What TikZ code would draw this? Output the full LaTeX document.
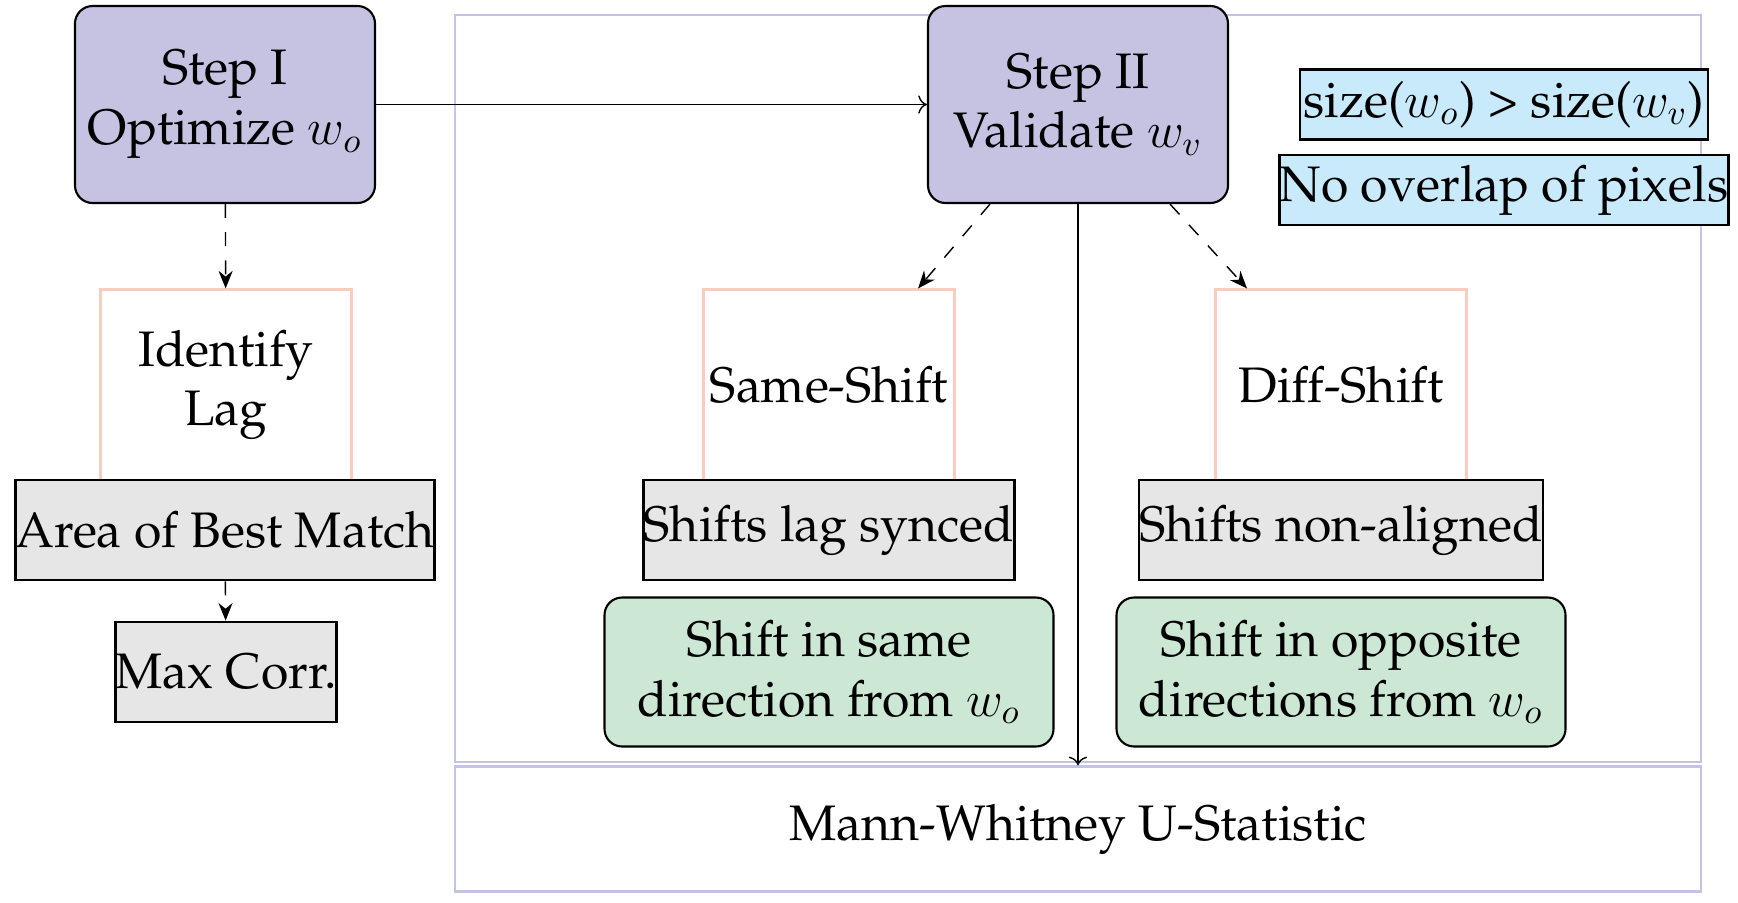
\documentclass[tikz,border=0pt]{standalone}
\usepackage[T1]{fontenc}
\usepackage{palatino}
\usepackage{amsmath}
\usetikzlibrary{arrows.meta}

\definecolor{steppurple}{RGB}{198,195,226}
\definecolor{framepurple}{RGB}{197,195,227}
\definecolor{lagpink}{RGB}{248,205,190}
\definecolor{featgrey}{RGB}{230,230,230}
\definecolor{condblue}{RGB}{200,234,250}
\definecolor{resgreen}{RGB}{204,232,213}

\begin{document}
\begin{tikzpicture}[
    semithick,
    box/.style = {align = center, inner sep = 0pt,
      font = \fontsize{14.2}{17}\selectfont},
    stepbox/.style = {box, draw, fill = steppurple,
      rounded corners = 5pt,
      minimum width = 3.0cm, minimum height = 1.97cm},
    lagbox/.style = {box, draw = lagpink,
      minimum width = 2.51cm, minimum height = 1.91cm},
    featbox/.style = {box, draw, thick, fill = featgrey,
      minimum height = 1cm},
    resbox/.style = {box, draw, fill = resgreen,
      rounded corners = 5pt,
      minimum width = 4.49cm, minimum height = 1.49cm},
    condbox/.style = {box, draw, thick, fill = condblue,
      minimum height = 0.7cm},
    framebox/.style = {box, draw = framepurple, thick,
      minimum width = 12.46cm},
    dashedarrow/.style = {thin, dash pattern = on 4pt off 4pt,
      -{Stealth[length = 5pt, width = 4pt]}}
    ]

    \useasboundingbox (0, 0) rectangle (17.38, 9.02);

    \node at (10.78, 5.135) [framebox, name = V, minimum height = 7.47cm] {};
    \node at (10.78, 0.73) [framebox, name = MW, minimum height = 1.245cm]
    {Mann-Whitney U-Statistic};

    \node at (2.25, 7.975) [stepbox, name = S1] {Step I\\Optimize $w_o$};
    \node at (10.78, 7.975) [stepbox, name = S2] {Step II\\Validate $w_v$};

    \node at (15.04, 7.975) [condbox, name = C1, minimum width = 4.08cm]
    {size($w_o$) > size($w_v$)};
    \node at (15.04, 7.12) [condbox, name = C2, minimum width = 4.49cm]
    {No overlap of pixels};

    \node at (2.26, 5.17) [lagbox, name = L] {Identify\\Lag};
    \node at (8.29, 5.17) [lagbox, name = SS] {Same-Shift};
    \node at (13.41, 5.17) [lagbox, name = DS] {Diff-Shift};

    \node at (2.25, 3.72) [featbox, name = A, minimum width = 4.19cm]
    {Area of Best Match};
    \node at (2.26, 2.30) [featbox, name = MC, minimum width = 2.21cm]
    {Max Corr.};
    \node at (8.29, 3.72) [featbox, name = SL, minimum width = 3.70cm]
    {Shifts lag synced};
    \node at (13.41, 3.72) [featbox, name = SN, minimum width = 4.04cm]
    {Shifts non-aligned};

    \node at (8.29, 2.30) [resbox, name = RS]
    {Shift in same\\direction from $w_o$};
    \node at (13.41, 2.30) [resbox, name = RO]
    {Shift in opposite\\directions from $w_o$};

    \draw [thin, ->] (S1) to (S2);
    \draw [thin, ->] (S2) to (MW);

    \draw [dashedarrow] (S1) to (L);
    \draw [dashedarrow] (A) to (MC);
    \draw [dashedarrow] ([xshift = -0.88cm]S2.south) to ([xshift = 0.89cm]SS.north);
    \draw [dashedarrow] ([xshift = 0.92cm]S2.south) to ([xshift = -0.94cm]DS.north);
  \end{tikzpicture}
\end{document}
